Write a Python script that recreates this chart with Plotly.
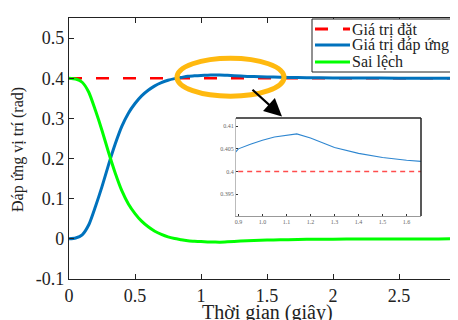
import plotly.graph_objects as go

# ---- data ----
time_s = [0, 0.05, 0.1, 0.15, 0.2, 0.25, 0.3, 0.35, 0.4, 0.45, 0.5, 0.55, 0.6, 0.65,
          0.7, 0.75, 0.8, 0.85, 0.9, 0.95, 1.0, 1.05, 1.1, 1.143, 1.2, 1.3, 1.4, 1.5,
          1.6, 1.66, 1.8, 2.0, 2.2, 2.5, 2.8, 3.0]
response = [0, 0.002, 0.01, 0.035, 0.08, 0.13, 0.185, 0.236, 0.28, 0.313, 0.337, 0.356,
            0.370, 0.381, 0.389, 0.395, 0.399, 0.402, 0.4050, 0.4060, 0.4069, 0.4076,
            0.4080, 0.4083, 0.4074, 0.4053, 0.4040, 0.4031, 0.4025, 0.4021, 0.4013,
            0.4007, 0.4004, 0.4002, 0.4001, 0.4000]
error = [0.4, 0.398, 0.39, 0.365, 0.32, 0.27, 0.215, 0.164, 0.12, 0.087, 0.063, 0.044,
         0.030, 0.019, 0.011, 0.005, 0.001, -0.002, -0.005, -0.006, -0.0069, -0.0076,
         -0.008, -0.0083, -0.0074, -0.0053, -0.004, -0.0031, -0.0025, -0.0021, -0.0013,
         -0.0007, -0.0004, -0.0002, -0.0001, 0.0]
setpoint_t = [0, 3.0]
setpoint = [0.4, 0.4]

series_names = ["Giá trị đặt", "Giá trị đáp ứng", "Sai lệch"]
series_colors = ["#FF0000", "#0072BD", "#00FF00"]

main_xticks = [0, 0.5, 1, 1.5, 2, 2.5]
main_yticks = [-0.1, 0, 0.1, 0.2, 0.3, 0.4, 0.5]
inset_xticks = [0.9, 1.0, 1.1, 1.2, 1.3, 1.4, 1.5, 1.6]
inset_yticks = [0.395, 0.4, 0.405, 0.41]

# page has an 8px body margin: figure occupies window px 8..458 / 8..320
OFF = 8
W, H = 458 - OFF, 320 - OFF
PL, PT, PB = 69, 18, 279       # plot area edges in window pixels
L, R, T, B = PL - OFF, 0, PT - OFF, 320 - PB
pw, ph = W - L - R, H - T - B

def px_x(p):
    return (p - PL) / pw

def px_y(p):
    return (PB - p) / ph

SERIF = "Liberation Serif"
INK = "#222"

fig = go.Figure()
fig.add_trace(go.Scatter(x=setpoint_t, y=setpoint, mode="lines", name=series_names[0],
                         line=dict(color=series_colors[0], width=2.5, dash="13px,14px")))
fig.add_trace(go.Scatter(x=time_s, y=response, mode="lines", name=series_names[1],
                         line=dict(color=series_colors[1], width=3, shape="spline", smoothing=0.6)))
fig.add_trace(go.Scatter(x=time_s, y=error, mode="lines", name=series_names[2],
                         line=dict(color=series_colors[2], width=3, shape="spline", smoothing=0.6)))

# inset
fig.add_trace(go.Scatter(x=setpoint_t, y=setpoint, mode="lines", showlegend=False,
                         xaxis="x2", yaxis="y2",
                         line=dict(color="#FF4D4D", width=1.5, dash="5px,4px")))
fig.add_trace(go.Scatter(x=time_s, y=response, mode="lines", showlegend=False,
                         xaxis="x2", yaxis="y2",
                         line=dict(color="#2E86D0", width=1.1)))

inset_x0, inset_x1 = px_x(236), px_x(421)
inset_y0, inset_y1 = px_y(216), px_y(118)

fig.update_layout(
    width=W, height=H,
    margin=dict(l=L, r=R, t=T, b=B),
    paper_bgcolor="white", plot_bgcolor="white",
    font=dict(family=SERIF, color=INK),
    showlegend=False,
    xaxis=dict(range=[0, pw / 132.0], tickvals=main_xticks,
               ticktext=[str(v) for v in main_xticks], automargin=False,
               ticks="inside", ticklen=5, tickcolor=INK,
               showline=True, linecolor=INK, linewidth=1.2, mirror="ticks",
               showgrid=False, zeroline=False, tickfont=dict(size=18, family=SERIF)),
    yaxis=dict(range=[-0.1, 0.55], tickvals=main_yticks, automargin=False,
               ticktext=["-0.1", "0", "0.1", "0.2", "0.3", "0.4", "0.5"],
               ticks="inside", ticklen=5, tickcolor=INK,
               showline=True, linecolor=INK, linewidth=1.2,
               showgrid=False, zeroline=False, tickfont=dict(size=18, family=SERIF)),
    xaxis2=dict(domain=[inset_x0, inset_x1], anchor="y2", range=[0.89, 1.66],
                tickvals=inset_xticks, ticktext=[str(v) for v in inset_xticks],
                ticks="inside", ticklen=2, tickcolor="#333", automargin=False,
                showline=True, linecolor="#999", linewidth=1,
                showgrid=False, zeroline=False,
                tickfont=dict(size=6, family=SERIF, color="#666")),
    yaxis2=dict(domain=[inset_y0, inset_y1], anchor="x2", range=[0.3902, 0.4118],
                tickvals=inset_yticks, ticktext=["0.395", "0.4", "0.405", "0.41"],
                ticks="inside", ticklen=2, tickcolor="#333", automargin=False,
                showline=True, linecolor="#bbb", linewidth=1,
                showgrid=False, zeroline=False,
                tickfont=dict(size=6, family=SERIF, color="#666")),
)

# inset top/right border (dark)
fig.add_shape(type="line", xref="paper", yref="paper", x0=inset_x0, x1=inset_x1,
              y0=inset_y1, y1=inset_y1, line=dict(color=INK, width=1.5))
fig.add_shape(type="line", xref="paper", yref="paper", x0=inset_x1, x1=inset_x1,
              y0=inset_y0, y1=inset_y1, line=dict(color=INK, width=1.5))

# orange highlight ellipse
fig.add_shape(type="circle", xref="x", yref="y", x0=0.818, x1=1.629, y0=0.355, y1=0.45,
              line=dict(color="#FFB90F", width=5), layer="above")

# arrow
fig.add_annotation(x=(282 - PL) / 132.0, y=0.4 - (117 - 79) / 400.0, xref="x", yref="y",
                   ax=-31, ay=-28, showarrow=True, arrowhead=2, arrowsize=1.6,
                   arrowwidth=2.2, arrowcolor="black", text="")

# legend box (drawn manually to match compact MATLAB legend)
fig.add_shape(type="rect", xref="paper", yref="paper",
              x0=px_x(312), x1=px_x(470), y0=px_y(72), y1=px_y(19),
              line=dict(color=INK, width=1), fillcolor="white", layer="above")
row_y = [29, 45, 62]
row_dash = ["13px,15px", "solid", "solid"]
for name, col, ry, dsh in zip(series_names, series_colors, row_y, row_dash):
    fig.add_shape(type="line", xref="paper", yref="paper",
                  x0=px_x(315), x1=px_x(350), y0=px_y(ry), y1=px_y(ry),
                  line=dict(color=col, width=3, dash=dsh), layer="above")
    fig.add_annotation(text=name, xref="paper", yref="paper",
                       x=px_x(351), y=px_y(ry), xanchor="left", yanchor="middle",
                       showarrow=False, borderpad=0,
                       font=dict(size=16, family=SERIF, color=INK))

# axis titles
fig.add_annotation(text="Đáp ứng vị trí (rad)", xref="paper", yref="paper",
                   x=px_x(18), y=px_y(150), xanchor="center", yanchor="middle",
                   textangle=-90, showarrow=False,
                   font=dict(size=16, family=SERIF, color=INK))
fig.add_annotation(text="Thời gian (giây)", xref="paper", yref="paper",
                   x=px_x(267), y=px_y(312), xanchor="center", yanchor="middle",
                   showarrow=False, font=dict(size=20, family=SERIF, color=INK))

fig.write_html("out.html")
